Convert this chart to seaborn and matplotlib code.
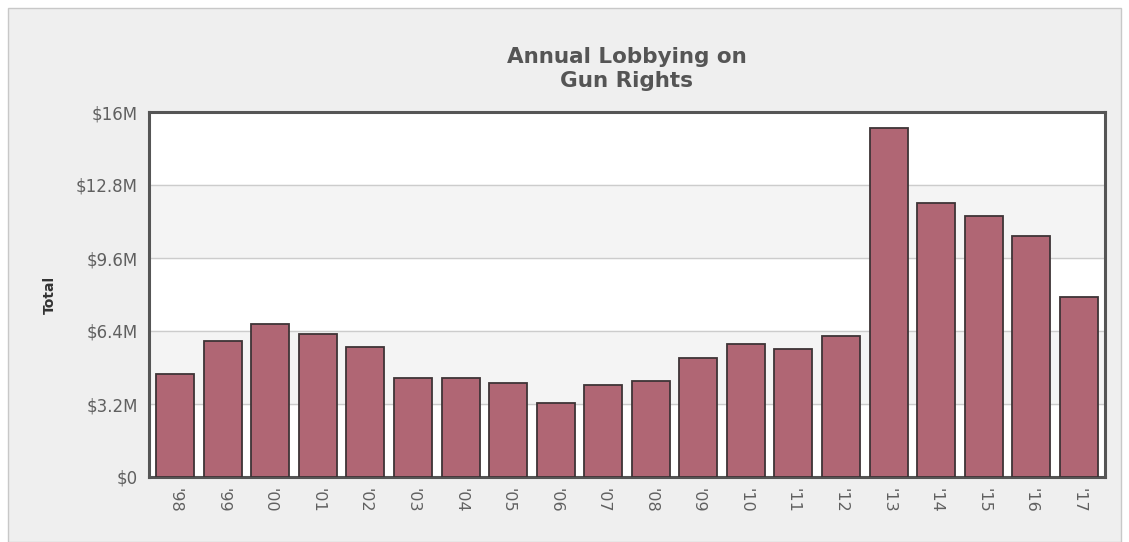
import matplotlib
matplotlib.use("Agg")
import matplotlib.pyplot as plt
import matplotlib.patches as mpatches
import pandas as pd
import seaborn as sns

# Data (millions of dollars)
years = ["'98", "'99", "'00", "'01", "'02", "'03", "'04", "'05", "'06", "'07",
         "'08", "'09", "'10", "'11", "'12", "'13", "'14", "'15", "'16", "'17"]
totals = [4.52, 5.96, 6.72, 6.26, 5.70, 4.35, 4.35, 4.13, 3.25, 4.03,
          4.20, 5.20, 5.84, 5.60, 6.18, 15.28, 11.99, 11.45, 10.57, 7.89]
y_ticks = [0, 3.2, 6.4, 9.6, 12.8, 16]
y_tick_labels = ["$0", "$3.2M", "$6.4M", "$9.6M", "$12.8M", "$16M"]

df = pd.DataFrame({"year": years, "total": totals})

sns.set_style("white")
plt.rcParams['font.family'] = ['DejaVu Sans']

fig = plt.figure(figsize=(11.29, 5.42), dpi=100)
fig.patch.set_facecolor("white")
# light grey panel with thin border
fig.patches.append(mpatches.Rectangle((8 / 1129, 0), 1113 / 1129, 534 / 542,
                                      transform=fig.transFigure, facecolor="#efefef",
                                      edgecolor="#c8c8c8", linewidth=1, zorder=-5))

ax = fig.add_axes([149 / 1129, 65 / 542, 956 / 1129, 365 / 542])
ax.set_zorder(2)
ax.set_facecolor("white")

# alternating bands
for i in range(len(y_ticks) - 1):
    if i % 2 == 1:
        ax.axhspan(y_ticks[i], y_ticks[i + 1], color="#f4f4f4", zorder=0)

sns.barplot(data=df, x="year", y="total", color="#b06674", saturation=1,
            edgecolor="#3e3436", linewidth=1.3, width=0.8, ax=ax, zorder=3)

ax.set_ylim(0, 16)
ax.set_xlim(-0.55, len(years) - 0.45)
ax.set_yticks(y_ticks)
ax.set_yticklabels(y_tick_labels)
ax.yaxis.grid(True, color="#cccccc", linewidth=1, zorder=1)
ax.set_axisbelow(True)

ax.tick_params(axis="y", labelsize=12, colors="#606060", length=4, width=1, pad=4)
ax.tick_params(axis="x", labelsize=11.5, colors="#606060", length=0, pad=8, labelrotation=270)

for s in ax.spines.values():
    s.set_color("#555555")
    s.set_linewidth(2.2)

ax.set_xlabel("")
ax.set_ylabel("Total", fontsize=10, fontweight="bold", color="#333333", labelpad=14)

fig.text((149 + 1105) / 2 / 1129, 1 - 69 / 542, "Annual Lobbying on\nGun Rights",
         ha="center", va="center", fontsize=15.5, fontweight="bold", color="#555555",
         linespacing=1.25)

fig.savefig("out.png", dpi=100)
